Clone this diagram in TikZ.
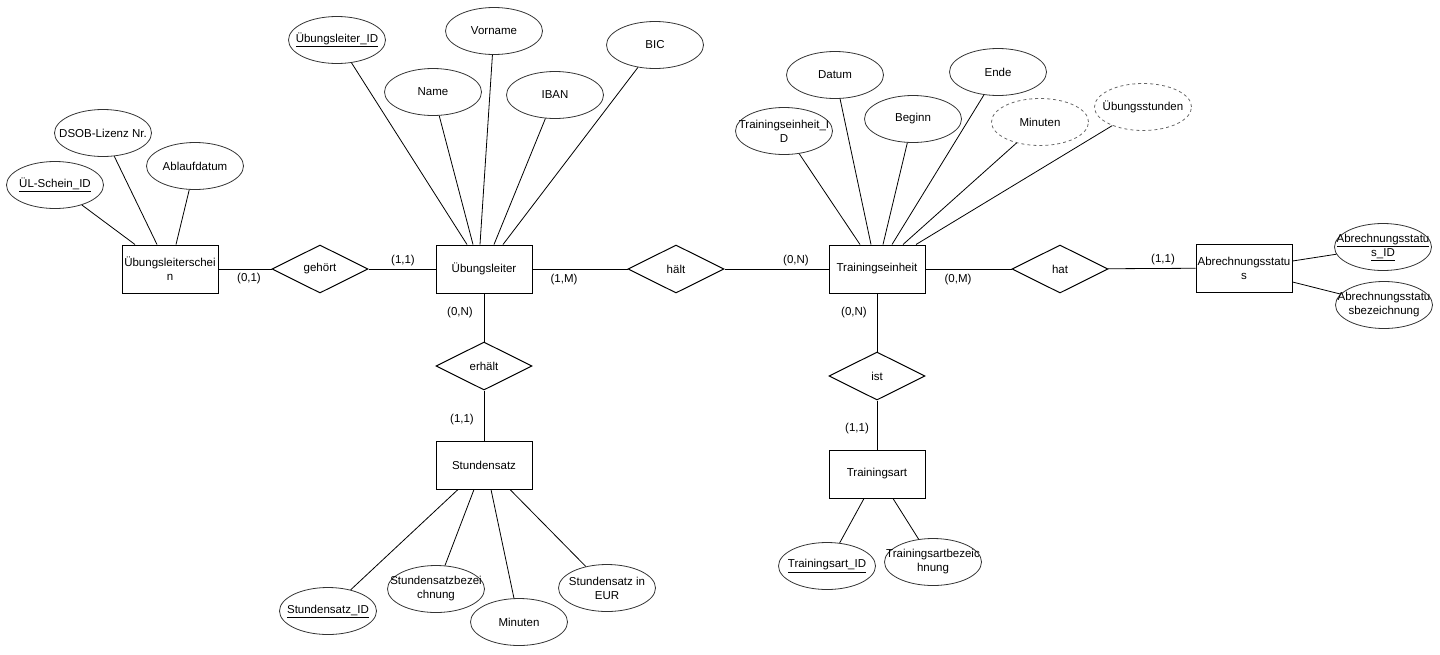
\documentclass[tikz,border=0pt]{standalone}
\usepackage{fontspec}
\setmainfont{Liberation Sans}
\usetikzlibrary{positioning}
\usetikzlibrary{shapes.geometric}

\begin{document}
\begin{tikzpicture}[x=1pt,y=-1pt,font=\fontsize{11.5}{14}\selectfont,
	entity/.style={rectangle,draw=black,line width=1pt,minimum width=96pt,minimum height=48pt,inner xsep=0pt,align=center},
	attr/.style={ellipse,draw=black!80,line width=0.8pt,minimum width=97pt,minimum height=47pt,inner xsep=-16pt,inner ysep=0pt,align=center},
	derived/.style={attr,dashed,draw=black!60},
	rel/.style={diamond,draw=black,line width=1pt,aspect=2,minimum width=96pt,minimum height=48pt,inner sep=0pt},
	card/.style={inner sep=0pt},
	conn/.style={draw=black,line width=0.8pt}]
		\useasboundingbox (0,0) rectangle (1440,654);
		% entities
		\node[entity] (uls) at (170,269) {Übungsleiterschei\\n};
		\node[entity] (ul) at (484,269) {Übungsleiter};
		\node[entity] (te) at (877,269) {Trainingseinheit};
		\node[entity] (abs) at (1244,268) {Abrechnungsstatu\\s};
		% relationships
		\node[rel] (gehoert) at (320,269) {gehört};
		\node[rel] (haelt) at (676,269) {hält};
		\node[rel] (hat) at (1060,269) {hat};
		\node[rel] (erhaelt)[below = 48pt of ul]{erhält};
		\node[entity] (sts)[below = 50pt of erhaelt]{Stundensatz};
		\node[rel] (ist)[below = 58pt of te]{ist};
		\node[entity] (ta)[below = 49pt of ist]{Trainingsart};
		% attributes
		\node[attr] (ulsid) at (55,185) {\underline{ÜL-Schein\_ID}};
		\node[attr] (dsob) at (103,133) {DSOB-Lizenz Nr.};
		\node[attr] (ablauf) at (195,166) {Ablaufdatum};
		\node[attr] (ulid) at (337,40) {\underline{Übungsleiter\_ID}};
		\node[attr] (name) at (433,92) {Name};
		\node[attr] (vorname) at (494,31) {Vorname};
		\node[attr] (iban) at (555,95) {IBAN};
		\node[attr] (bic) at (655,45) {BIC};
		\node[attr] (teid) at (784,131) {Trainingseinheit\_I\\D};
		\node[attr] (datum) at (835,75) {Datum};
		\node[attr] (beginn) at (913,119) {Beginn};
		\node[attr] (ende) at (998,72) {Ende};
		\node[derived] (minte) at (1040,122) {Minuten};
		\node[derived] (ustd) at (1143,107) {Übungsstunden};
		\node[attr] (absid) at (1383,247) {\underline{Abrechnungsstatu}\\\underline{s\_ID}};
		\node[attr] (absbez) at (1384,305) {Abrechnungsstatu\\sbezeichnung};
		\node[attr] (taid) at (827,566) {\underline{Trainingsart\_ID}};
		\node[attr] (tabez) at (933,562) {Trainingsartbezeic\\hnung};
		\node[attr] (stsid) at (328,611) {\underline{Stundensatz\_ID}};
		\node[attr] (stsbez) at (436,589) {Stundensatzbezei\\chnung};
		\node[attr] (stsmin) at (519,622) {Minuten};
		\node[attr] (stseur) at (607,588) {Stundensatz in\\EUR};
		% cardinalities
		\node[card] (c1) at (249,279) {(0,1)};
		\node[card] (c2) at (403,261) {(1,1)};
		\node[card] (c3) at (564,280) {(1,M)};
		\node[card] (c4) at (796,261) {(0,N)};
		\node[card] (c5) at (460,313) {(0,N)};
		\node[card] (c6) at (462,420) {(1,1)};
		\node[card] (c7) at (958,280) {(0,M)};
		\node[card] (c8) at (1163,260) {(1,1)};
		\node[card] (c9) at (854,313) {(0,N)};
		\node[card] (c10) at (857,429) {(1,1)};
		% relationship lines
		\draw[conn] (uls) -- (gehoert);
		\draw[conn] (gehoert) -- (ul);
		\draw[conn] (ul) -- (haelt);
		\draw[conn] (haelt) -- (te);
		\draw[conn] (te) -- (hat);
		\draw[conn] (hat) -- (abs);
		\draw[conn] (ul) -- (erhaelt);
		\draw[conn] (erhaelt) -- (sts);
		\draw[conn] (te) -- (ist);
		\draw[conn] (ist) -- (ta);
		% attribute lines
		\draw[conn] (ulsid) -- ([xshift=-35pt]uls.north);
		\draw[conn] (dsob) -- ([xshift=-13pt]uls.north);
		\draw[conn] (ablauf) -- ([xshift=6pt]uls.north);
		\draw[conn] (ulid) -- ([xshift=-17pt]ul.north);
		\draw[conn] (name) -- ([xshift=-11pt]ul.north);
		\draw[conn] (vorname) -- ([xshift=-4pt]ul.north);
		\draw[conn] (iban) -- ([xshift=10pt]ul.north);
		\draw[conn] (bic) -- ([xshift=19pt]ul.north);
		\draw[conn] (teid) -- ([xshift=-17pt]te.north);
		\draw[conn] (datum) -- ([xshift=-6pt]te.north);
		\draw[conn] (beginn) -- ([xshift=6pt]te.north);
		\draw[conn] (ende) -- ([xshift=15pt]te.north);
		\draw[conn] (minte) -- ([xshift=26pt]te.north);
		\draw[conn] (ustd) -- ([xshift=39pt]te.north);
		\draw[conn] (absid) -- ([yshift=7pt]abs.east);
		\draw[conn] (absbez) -- ([yshift=-14pt]abs.east);
		\draw[conn] (taid) -- ([xshift=-13pt]ta.south);
		\draw[conn] (tabez) -- ([xshift=16pt]ta.south);
		\draw[conn] (stsid) -- ([xshift=-26pt]sts.south);
		\draw[conn] (stsbez) -- ([xshift=-10pt]sts.south);
		\draw[conn] (stsmin) -- ([xshift=7pt]sts.south);
		\draw[conn] (stseur) -- ([xshift=26pt]sts.south);
	\end{tikzpicture}
\end{document}
